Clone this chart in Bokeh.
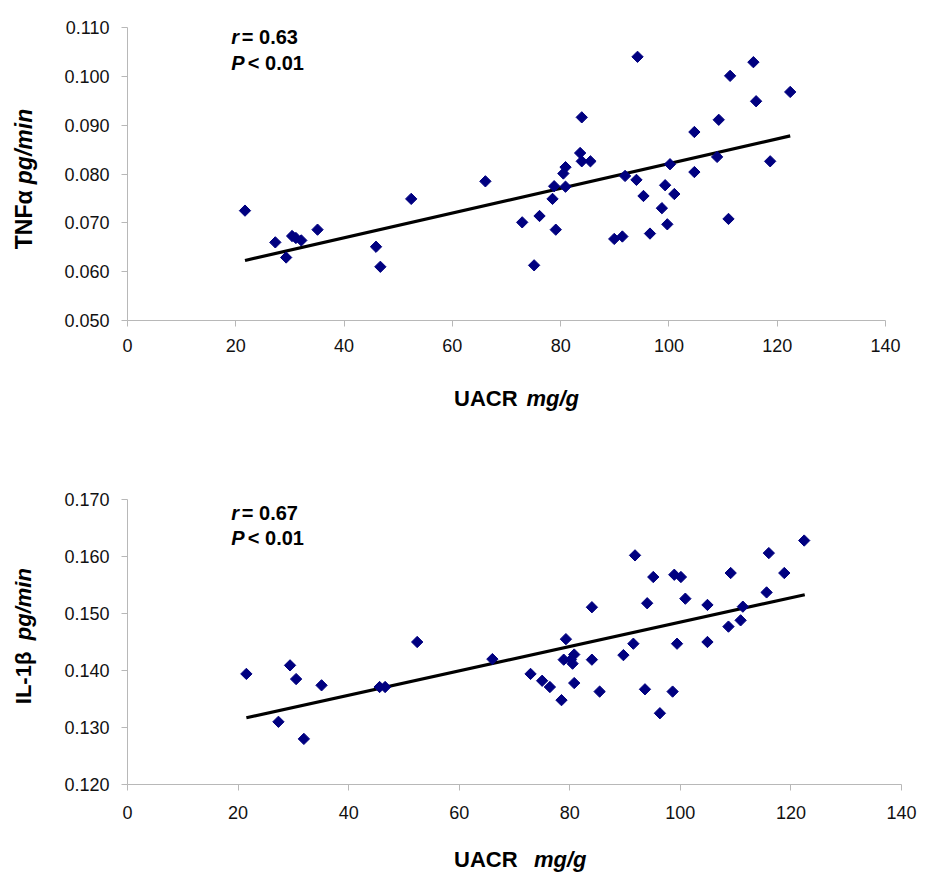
import numpy as np
from bokeh.plotting import figure
from bokeh.layouts import column, row
from bokeh.models import Range1d, FixedTicker, Label, PrintfTickFormatter
from bokeh.embed import file_html
from bokeh.resources import INLINE

# ---------------- data ----------------
uacr_tnf = [21.7, 27.3, 29.3, 30.4, 31.1, 32.1, 35.1, 45.9, 46.7, 52.4, 66.1, 72.9, 75.1, 76.1,
            78.5, 78.8, 79.1, 80.5, 80.9, 80.9, 83.6, 83.9, 83.9, 85.5, 89.9, 91.4, 91.9, 94.0,
            94.2, 95.3, 96.5, 98.7, 99.3, 99.7, 100.2, 101.0, 104.7, 104.7, 108.9, 109.2, 111.0,
            111.3, 115.6, 116.1, 118.7, 122.4]
tnf = [0.0725, 0.0660, 0.0629, 0.0673, 0.0669, 0.0664, 0.0686, 0.0651, 0.0610, 0.0749, 0.0785,
       0.0701, 0.0613, 0.0714, 0.0749, 0.0775, 0.0686, 0.0801, 0.0774, 0.0814, 0.0843, 0.0916,
       0.0826, 0.0826, 0.0667, 0.0672, 0.0796, 0.0788, 0.1040, 0.0755, 0.0678, 0.0730, 0.0777,
       0.0697, 0.0820, 0.0759, 0.0886, 0.0804, 0.0835, 0.0911, 0.0708, 0.1001, 0.1029, 0.0949,
       0.0826, 0.0968]
tnf_fit_x = [21.7, 122.4]
tnf_fit_y = [0.0623, 0.0878]

uacr_il = [21.5, 27.3, 29.4, 30.5, 31.9, 35.1, 45.6, 46.6, 52.4, 66.0, 72.9, 75.0, 76.4, 78.5,
           78.9, 79.3, 80.2, 80.5, 80.8, 80.8, 84.0, 84.0, 85.4, 89.7, 91.5, 91.8, 93.6, 94.0,
           95.1, 96.3, 98.6, 98.9, 99.4, 100.1, 100.9, 104.9, 104.9, 108.7, 109.1, 110.9, 111.3,
           115.6, 116.0, 118.8, 122.4]
il1b = [0.1394, 0.1310, 0.1409, 0.1385, 0.1280, 0.1374, 0.1371, 0.1371, 0.1450, 0.1420, 0.1394,
        0.1382, 0.1371, 0.1348, 0.1419, 0.1455, 0.1419, 0.1412, 0.1428, 0.1378, 0.1511, 0.1419,
        0.1363, 0.1427, 0.1447, 0.1602, 0.1367, 0.1518, 0.1564, 0.1325, 0.1363, 0.1568, 0.1447,
        0.1564, 0.1526, 0.1515, 0.1450, 0.1477, 0.1571, 0.1488, 0.1512, 0.1537, 0.1606, 0.1571,
        0.1628]
il_fit_x = [21.5, 122.5]
il_fit_y = [0.1317, 0.1533]

x_ticks = [0, 20, 40, 60, 80, 100, 120, 140]
tnf_ticks = [0.05, 0.06, 0.07, 0.08, 0.09, 0.10, 0.11]
il_ticks = [0.12, 0.13, 0.14, 0.15, 0.16, 0.17]

FONT = "Liberation Sans"
NAVY = "#000080"
AXIS_GRAY = "#b8b8b8"
TITLE_W = 56


def make_panel(xs, ys, fx, fy, yticks, fw, fh, bl, bt, br, bb, x_standoff):
    p = figure(frame_width=fw, frame_height=fh, min_border_left=bl, min_border_top=bt,
               min_border_right=br, min_border_bottom=bb,
               x_range=Range1d(0, 140), y_range=Range1d(yticks[0], yticks[-1]),
               output_backend="svg", toolbar_location=None)
    p.outline_line_color = None
    p.xgrid.visible = False
    p.ygrid.visible = False
    for ax in (p.xaxis[0], p.yaxis[0]):
        ax.axis_line_color = AXIS_GRAY
        ax.major_tick_line_color = AXIS_GRAY
        ax.minor_tick_line_color = None
        ax.major_tick_in = 0
        ax.major_tick_out = 6
        ax.major_label_text_font = FONT
        ax.major_label_text_font_size = "18px"
        ax.major_label_text_color = "#111111"
    p.xaxis[0].ticker = FixedTicker(ticks=x_ticks)
    p.yaxis[0].ticker = FixedTicker(ticks=yticks)
    p.yaxis[0].formatter = PrintfTickFormatter(format="%.3f")
    p.xaxis[0].major_label_standoff = x_standoff
    p.yaxis[0].major_label_standoff = 12
    p.line(fx, fy, line_color="black", line_width=3.2)
    p.scatter(xs, ys, marker="square", angle=np.pi / 4, size=8,
              fill_color=NAVY, line_color=NAVY)
    return p


def blank(w, h):
    b = figure(frame_width=w, frame_height=h, min_border=0,
               x_range=Range1d(0, 1), y_range=Range1d(0, 1),
               x_axis_location=None, y_axis_location=None,
               output_backend="svg", toolbar_location=None)
    b.outline_line_color = None
    b.xgrid.visible = False
    b.ygrid.visible = False
    return b


def lab(p, x, y, text, style, size, angle=0.0):
    p.add_layout(Label(x=x, y=y, x_units="screen", y_units="screen", text=text,
                       text_font=FONT, text_font_style=style, text_font_size=size,
                       text_align="left", text_baseline="alphabetic", angle=angle,
                       text_color="black"))


# ---------------- top panel ----------------
p1 = make_panel(uacr_tnf, tnf, tnf_fit_x, tnf_fit_y, tnf_ticks,
                758, 293, 127 - TITLE_W, 27, 30, 45, 12)
lab(p1, 103.7, 283.7, "r", "bold italic", "20px")
lab(p1, 114.3, 283.7, "= 0.63", "bold", "20px")
lab(p1, 103.7, 258, "P", "bold italic", "20px")
lab(p1, 120.3, 258, "< 0.01", "bold", "20px")

yt1 = blank(TITLE_W, 27 + 293 + 45)
lab(yt1, 23.7, 143.3, "TNF\u03b1", "bold", "23px", np.pi / 2)
lab(yt1, 23.7, 208.3, "pg/min", "bold italic", "23px", np.pi / 2)

xt1 = blank(127 + 758 + 30, 65)
lab(xt1, 453.5, 32.3, "UACR", "bold", "22px")
lab(xt1, 526, 32.3, "mg/g", "bold italic", "22px")

# ---------------- bottom panel ----------------
p2 = make_panel(uacr_il, il1b, il_fit_x, il_fit_y, il_ticks,
                774, 285, 127 - TITLE_W, 69, 20, 45, 15)
lab(p2, 103.7, 272, "r", "bold italic", "20px")
lab(p2, 114.3, 272, "= 0.67", "bold", "20px")
lab(p2, 103.7, 247, "P", "bold italic", "20px")
lab(p2, 120.3, 247, "< 0.01", "bold", "20px")

yt2 = blank(TITLE_W, 69 + 285 + 45)
lab(yt2, 22.7, 194.3, "IL-1\u03b2", "bold", "22px", np.pi / 2)
lab(yt2, 22.7, 258.3, "pg/min", "bold italic", "22px", np.pi / 2)

xt2 = blank(127 + 774 + 20, 52)
lab(xt2, 453.5, 21.7, "UACR", "bold", "22px")
lab(xt2, 533.5, 21.7, "mg/g", "bold italic", "22px")

layout = column(row(yt1, p1, spacing=0), xt1, row(yt2, p2, spacing=0), xt2, spacing=0)
open("out.html", "w").write(file_html(layout, INLINE))
